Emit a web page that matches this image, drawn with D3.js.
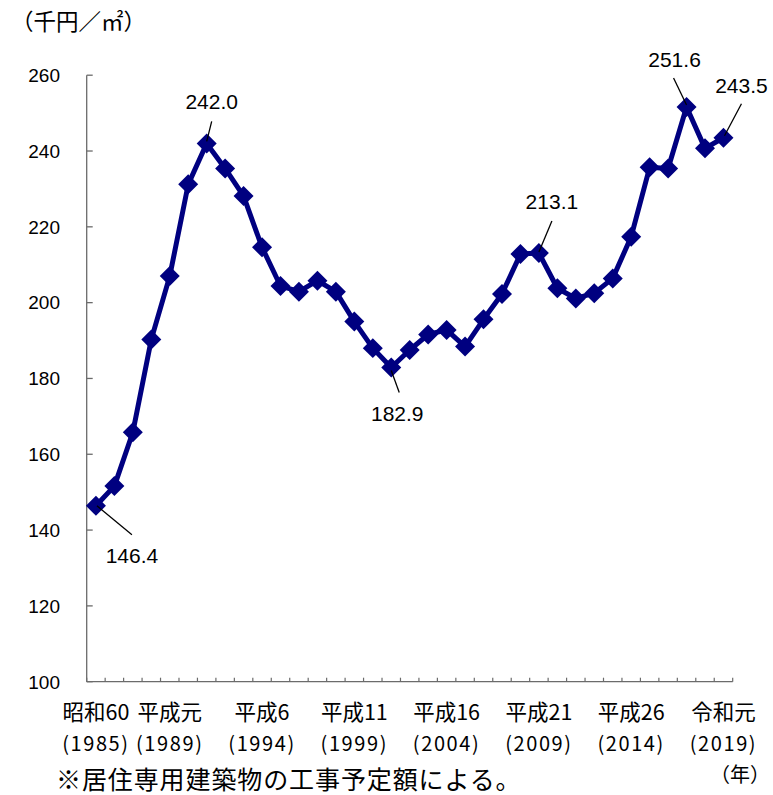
<!DOCTYPE html>
<html lang="ja">
<head>
<meta charset="utf-8">
<script src="https://cdn.jsdelivr.net/npm/d3@7"></script>
<style>
  html, body { margin: 0; padding: 0; background: #fff; }
  svg { display: block; }
</style>
</head>
<body>
<svg id="chart" width="773" height="795"></svg>
<script>
// 建築工事費（居住専用建築物）の推移 — 千円／㎡
const years = d3.range(1985, 2020);
const values = [
  146.4, 151.6, 165.8, 190.3, 207.0, 231.2, 242.0, 235.4, 228.1, 214.6,
  204.4, 202.9, 205.8, 202.9, 195.0, 188.0, 182.9, 187.5, 191.6, 192.8,
  188.4, 195.6, 202.3, 212.8, 213.1, 203.8, 201.1, 202.5, 206.4, 217.4,
  235.7, 235.4, 251.6, 240.7, 243.5
];
const yTicks = [100, 120, 140, 160, 180, 200, 220, 240, 260];

// 目盛りラベル（和暦・西暦）
const eraYears = [1985, 1989, 1994, 1999, 2004, 2009, 2014, 2019];
const eraNames = ["昭和60", "平成元", "平成6", "平成11", "平成16", "平成21", "平成26", "令和元"];
const eraWestern = ["(1985)", "(1989)", "(1994)", "(1999)", "(2004)", "(2009)", "(2014)", "(2019)"];

// 値を表示する年
const labeledYears = [1985, 1991, 2001, 2009, 2017, 2019];

const unitText = "（千円／㎡）";
const yearUnitText = "（年）";
const noteText = "※居住専用建築物の工事予定額による。";

// ---- レイアウト ----
const plot = { left: 86.7, right: 732.7, top: 75.2, bottom: 681.7 };
const lineColor = "#000080";
const axisColor = "#6b6b6b";
const jpFont = "'Noto Sans CJK JP', sans-serif";
const numFont = "'Liberation Sans', Arial, sans-serif";

// ラベル位置（点からのずれ）と引き出し線の両端
const labelPlacement = {
  1985: { tx: 36, ty: 50, l1: [1, 0], l2: [36, 29] },
  1991: { tx: 5, ty: -42, l1: [0, -2], l2: [5, -22] },
  2001: { tx: 6, ty: 46, l1: [0, 3], l2: [8, 25] },
  2009: { tx: 13, ty: -52, l1: [0, -1], l2: [13, -32] },
  2017: { tx: -12, ty: -48, l1: [0, -2], l2: [-13, -29] },
  2019: { tx: 18, ty: -52, l1: [1, -2], l2: [18, -34] }
};

const svg = d3.select("#chart");

const x = d3.scaleBand()
  .domain(years)
  .range([plot.left, plot.right])
  .paddingInner(0)
  .paddingOuter(0);

const y = d3.scaleLinear()
  .domain([100, 260])
  .range([plot.bottom, plot.top]);

const cx = yr => x(yr) + x.bandwidth() / 2;

// Y軸
const yAxis = svg.append("g").attr("transform", `translate(${plot.left},0)`);
yAxis.append("line")
  .attr("x1", 0).attr("x2", 0)
  .attr("y1", y(260)).attr("y2", y(100))
  .attr("stroke", axisColor).attr("stroke-width", 1.3);
yAxis.selectAll("line.tick")
  .data(yTicks)
  .join("line")
  .attr("class", "tick")
  .attr("x1", 0).attr("x2", 6)
  .attr("y1", d => y(d)).attr("y2", d => y(d))
  .attr("stroke", axisColor).attr("stroke-width", 1.3);
svg.append("g").selectAll("text")
  .data(yTicks)
  .join("text")
  .attr("x", 60)
  .attr("y", d => y(d))
  .attr("dy", "0.36em")
  .attr("text-anchor", "end")
  .attr("font-family", numFont)
  .attr("font-size", 19)
  .attr("fill", "#000")
  .text(d => d);

// X軸（区切り目盛り）
const xAxis = svg.append("g").attr("transform", `translate(0,${plot.bottom})`);
xAxis.append("line")
  .attr("x1", plot.left).attr("x2", plot.right)
  .attr("y1", 0).attr("y2", 0)
  .attr("stroke", axisColor).attr("stroke-width", 1.3);
const boundaries = years.map(yr => x(yr)).concat([plot.right]);
xAxis.selectAll("line.tick")
  .data(boundaries)
  .join("line")
  .attr("class", "tick")
  .attr("x1", d => d).attr("x2", d => d)
  .attr("y1", 0).attr("y2", -4)
  .attr("stroke", axisColor).attr("stroke-width", 1.2);

// X軸ラベル
const xl = svg.append("g")
  .attr("font-family", jpFont)
  .attr("fill", "#000")
  .attr("text-anchor", "middle");
xl.selectAll("text.era")
  .data(eraYears)
  .join("text")
  .attr("class", "era")
  .attr("x", d => cx(d))
  .attr("y", 719.5)
  .attr("font-size", 21.5)
  .text((d, i) => eraNames[i]);
xl.selectAll("text.west")
  .data(eraYears)
  .join("text")
  .attr("class", "west")
  .attr("x", d => cx(d))
  .attr("y", 751)
  .attr("font-size", 20)
  .attr("letter-spacing", 1.6)
  .text((d, i) => eraWestern[i]);

// 折れ線
const data = years.map((yr, i) => ({ year: yr, value: values[i] }));
svg.append("path")
  .datum(data)
  .attr("fill", "none")
  .attr("stroke", lineColor)
  .attr("stroke-width", 5)
  .attr("stroke-linejoin", "round")
  .attr("d", d3.line().x(d => cx(d.year)).y(d => y(d.value)));

// マーカー（ひし形）
const diamond = d3.symbol().type(d3.symbolSquare).size(200);
svg.append("g").selectAll("path")
  .data(data)
  .join("path")
  .attr("d", diamond)
  .attr("transform", d => `translate(${cx(d.year)},${y(d.value)}) rotate(45)`)
  .attr("fill", lineColor);

// 値ラベルと引き出し線
const labeled = data.filter(d => labeledYears.includes(d.year));
const lg = svg.append("g");
lg.selectAll("line")
  .data(labeled)
  .join("line")
  .attr("x1", d => cx(d.year) + labelPlacement[d.year].l1[0])
  .attr("y1", d => y(d.value) + labelPlacement[d.year].l1[1])
  .attr("x2", d => cx(d.year) + labelPlacement[d.year].l2[0])
  .attr("y2", d => y(d.value) + labelPlacement[d.year].l2[1])
  .attr("stroke", "#000")
  .attr("stroke-width", 1.3);
lg.selectAll("text")
  .data(labeled)
  .join("text")
  .attr("x", d => cx(d.year) + labelPlacement[d.year].tx)
  .attr("y", d => y(d.value) + labelPlacement[d.year].ty)
  .attr("dy", "0.36em")
  .attr("text-anchor", "middle")
  .attr("font-family", numFont)
  .attr("font-size", 21)
  .attr("fill", "#000")
  .text(d => d.value.toFixed(1));

// 単位・注記
svg.append("text")
  .attr("x", 11).attr("y", 30)
  .attr("font-family", jpFont)
  .attr("font-size", 22.5)
  .attr("fill", "#000")
  .text(unitText);
svg.append("text")
  .attr("x", 770).attr("y", 782)
  .attr("text-anchor", "end")
  .attr("font-family", jpFont)
  .attr("font-size", 20)
  .attr("fill", "#000")
  .text(yearUnitText);
svg.append("text")
  .attr("x", 56).attr("y", 789)
  .attr("font-family", jpFont)
  .attr("font-size", 25)
  .attr("letter-spacing", 0.9)
  .attr("fill", "#000")
  .text(noteText);
</script>
</body>
</html>
